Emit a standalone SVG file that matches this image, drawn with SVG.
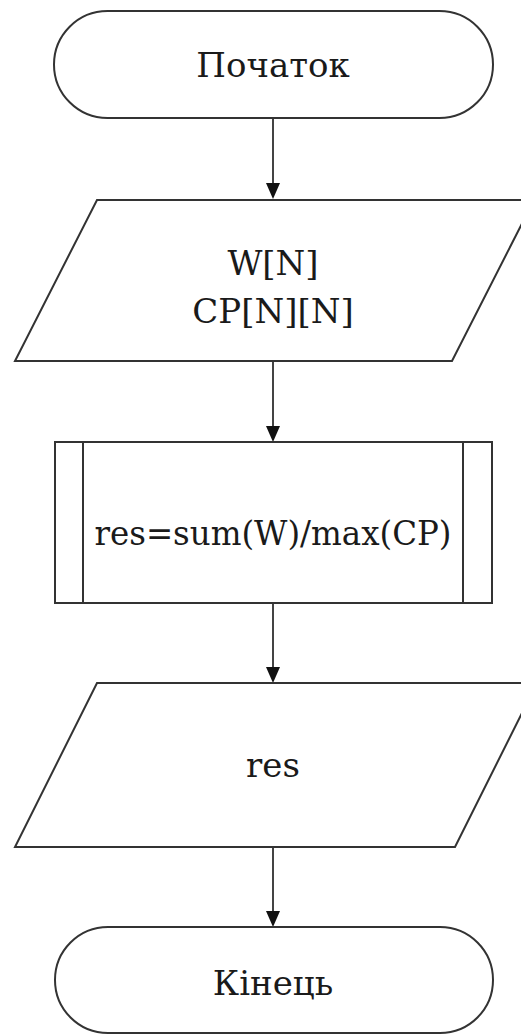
<svg xmlns="http://www.w3.org/2000/svg" width="521" height="1034" viewBox="0 0 521 1034">
  <style>
    .shape { fill: #ffffff; stroke: #333333; stroke-width: 2; }
    .edge { fill: none; stroke: #444444; stroke-width: 2; }
    .head { fill: #111111; }
    .label { font-family: 'DejaVu Serif', serif; font-size: 34px; fill: #1a1a1a; text-anchor: middle; }
  </style>
  <rect width="521" height="1034" fill="#ffffff"/>

  <g id="connectors">
    <line class="edge" x1="273" y1="118" x2="273" y2="183"/>
    <path class="head" d="M266,183 L280,183 L273,199 Z"/>
    <line class="edge" x1="273" y1="361" x2="273" y2="426"/>
    <path class="head" d="M266,426 L280,426 L273,442 Z"/>
    <line class="edge" x1="273" y1="603" x2="273" y2="667"/>
    <path class="head" d="M266,667 L280,667 L273,683 Z"/>
    <line class="edge" x1="273" y1="847" x2="273" y2="911"/>
    <path class="head" d="M266,911 L280,911 L273,927 Z"/>
  </g>

  <g id="start">
    <rect class="shape" x="54" y="11" width="439" height="107" rx="53.5" ry="53.5"/>
    <text class="label" x="273" y="77">Початок</text>
  </g>

  <g id="input">
    <polygon class="shape" points="97,200 534,200 452,361 15,361"/>
    <text class="label" x="273" y="275">W[N]</text>
    <text class="label" x="273" y="323">CP[N][N]</text>
  </g>

  <g id="process">
    <rect class="shape" x="55" y="442" width="437" height="161"/>
    <line class="shape" x1="83" y1="442" x2="83" y2="603"/>
    <line class="shape" x1="463" y1="442" x2="463" y2="603"/>
    <text class="label" x="273" y="545" textLength="357" lengthAdjust="spacingAndGlyphs">res=sum(W)/max(CP)</text>
  </g>

  <g id="output">
    <polygon class="shape" points="97,683 537,683 455,847 15,847"/>
    <text class="label" x="273" y="777">res</text>
  </g>

  <g id="end">
    <rect class="shape" x="55" y="927" width="438" height="106" rx="53" ry="53"/>
    <text class="label" x="273" y="995">Кінець</text>
  </g>
</svg>
